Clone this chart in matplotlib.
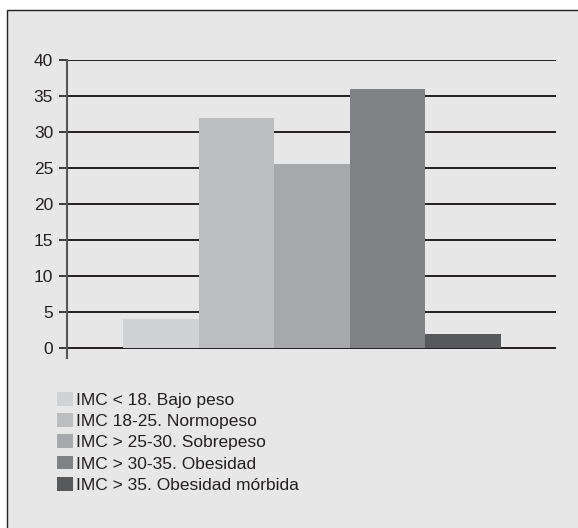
import matplotlib.pyplot as plt
import numpy as np
from matplotlib.patches import Rectangle, Patch

plt.rcParams['font.family'] = ['Liberation Sans', 'DejaVu Sans']

categories = ['IMC < 18. Bajo peso', 'IMC 18-25. Normopeso', 'IMC > 25-30. Sobrepeso',
              'IMC > 30-35. Obesidad', 'IMC > 35. Obesidad mórbida']
values = [4, 32, 25.5, 36, 2]
colors = ['#d1d2d3', '#bcbdbf', '#a7a8ab', '#808184', '#58595b']
yticks = [0, 5, 10, 15, 20, 25, 30, 35, 40]

W, H = 578, 528
fig = plt.figure(figsize=(W / 100, H / 100), dpi=100, facecolor='white')

# panel background with a thin border (runs off the right and bottom edge)
fig.patches.append(Rectangle((7 / W, -0.1), 1.2, 1 - 10 / H + 0.1, transform=fig.transFigure,
                             facecolor='#e6e7e6', edgecolor='#231f20', lw=1.0, zorder=-5))

ax = fig.add_axes([67 / W, 1 - 358 / H, (556 - 67) / W, (358 - 60) / H])
ax.set_facecolor('none')
ax.set_zorder(2)

x = np.arange(len(values))
ax.bar(x, values, width=1.0, color=colors, zorder=3)

for t in yticks:
    ax.axhline(t, color='#231f20', lw=1.4, zorder=2)

ax.set_xlim(-1.24, 5.23)
ax.set_ylim(-1.4, 40)
ax.set_yticks(yticks)
ax.set_xticks([])
for s in ['top', 'right', 'bottom']:
    ax.spines[s].set_visible(False)
ax.spines['left'].set_color('#555555')
ax.spines['left'].set_linewidth(1.5)
ax.spines['left'].set_zorder(4)
ax.tick_params(axis='y', length=6, width=1.2, color='#231f20', pad=4,
               labelsize=12.5, labelcolor='#231f20')

handles = [Patch(facecolor=c, edgecolor='none') for c in colors]
fig.legend(handles, categories, loc='upper left', bbox_to_anchor=(50 / W, 1 - 385 / H),
           frameon=False, fontsize=12.5, handlelength=0.92, handleheight=0.86,
           handletextpad=0.2, labelspacing=0.3, borderaxespad=0, labelcolor='#231f20')

fig.savefig('out.png', dpi=100, facecolor='white')
